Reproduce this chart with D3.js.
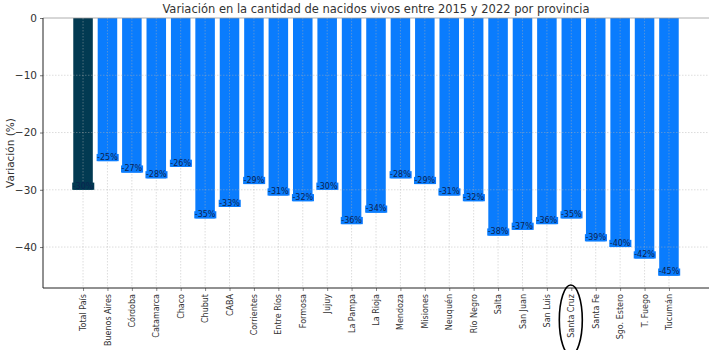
<!DOCTYPE html>
<html><head><meta charset="utf-8">
<script src="https://cdn.jsdelivr.net/npm/d3@7"></script>
<style>body{margin:0;background:#fff;} svg{display:block;font-family:"DejaVu Sans",sans-serif;}</style>
</head><body><svg id="c" width="715" height="350"></svg>
<script>
const categories = ["Total País","Buenos Aires","Córdoba","Catamarca","Chaco","Chubut","CABA","Corrientes","Entre Ríos","Formosa","Jujuy","La Pampa","La Rioja","Mendoza","Misiones","Neuquén","Río Negro","Salta","San Juan","San Luis","Santa Cruz","Santa Fe","Sgo. Estero","T. Fuego","Tucumán"];
const values = [-30,-25,-27,-28,-26,-35,-33,-29,-31,-32,-30,-36,-34,-28,-29,-31,-32,-38,-37,-36,-35,-39,-40,-42,-45];
const yTicks = [0,-10,-20,-30,-40];
const highlighted = "Santa Cruz";
const title = "Variación en la cantidad de nacidos vivos entre 2015 y 2022 por provincia";
const yLabel = "Variación (%)";

const svg = d3.select("#c");
const L = 43, R = 709, T = 18, B = 288;
const n = categories.length;
const x = d3.scaleLinear().domain([-1.64, n - 1 + 1.64]).range([L, R]);
const y = d3.scaleLinear().domain([0, -47.15]).range([T, B]);
const bw = (x(0.8) - x(0));
const blue = "#0a7cfd", dark = "#023a52";

// bars
svg.append("g").selectAll("rect").data(values).join("rect")
  .attr("x", (d,i) => x(i) - bw/2).attr("y", y(0))
  .attr("width", bw).attr("height", d => y(d) - y(0))
  .attr("fill", (d,i) => i === 0 ? dark : blue);

// grid (over bars)
const grid = svg.append("g").attr("stroke", "#b0b0b0").attr("stroke-opacity", 0.55)
  .attr("stroke-width", 0.8).attr("stroke-dasharray", "1.5,1.5");
grid.selectAll("line.v").data(categories).join("line").attr("class","v")
  .attr("x1", (d,i) => x(i)).attr("x2", (d,i) => x(i)).attr("y1", T).attr("y2", B);
grid.selectAll("line.h").data(yTicks.filter(t => t !== 0)).join("line").attr("class","h")
  .attr("x1", L).attr("x2", R).attr("y1", d => y(d)).attr("y2", d => y(d));

// value labels
const lab = svg.append("g").attr("font-size", 8).attr("text-anchor", "middle");
values.forEach((v, i) => {
  const txt = lab.append("text").attr("x", x(i)).attr("y", y(v) - 1.2)
    .attr("fill", "#0b2350").text(Math.round(v) + "%");
  const bb = txt.node().getBBox();
  lab.insert("rect", "text").attr("x", bb.x - 0.5).attr("y", bb.y + 1)
    .attr("width", bb.width + 1).attr("height", y(v) - bb.y - 1)
    .attr("fill", i === 0 ? dark : blue);
});
// bring texts on top
lab.selectAll("text").raise();

// axes
const yAxis = d3.axisLeft(y).tickValues(yTicks).tickSize(3).tickPadding(3)
  .tickFormat(d => d3.format("d")(d).replace("-", "\u2212"));
const gy = svg.append("g").attr("transform", `translate(${L},0)`).call(yAxis);
gy.select(".domain").remove();
gy.selectAll("text").attr("font-size", 10.5).attr("fill", "#333").attr("font-family", "DejaVu Sans");
gy.selectAll("line").attr("stroke", "#777");

const xAxis = d3.axisBottom(x).tickValues(d3.range(n)).tickSize(3).tickPadding(3)
  .tickFormat(i => categories[i]);
const gx = svg.append("g").attr("transform", `translate(0,${B})`).call(xAxis);
gx.select(".domain").remove();
gx.selectAll("line").attr("stroke", "#888");
gx.selectAll("text").attr("font-size", 8).attr("fill", "#333").attr("font-family", "DejaVu Sans")
  .attr("transform", "rotate(-90)").attr("text-anchor", "end")
  .attr("x", -6).attr("y", 0).attr("dy", "0.32em");

// spines
svg.append("line").attr("x1", L).attr("x2", R).attr("y1", T).attr("y2", T).attr("stroke", "#999").attr("stroke-width", 0.8);
svg.append("line").attr("x1", L).attr("x2", L).attr("y1", T).attr("y2", B).attr("stroke", "#222").attr("stroke-width", 1);
svg.append("line").attr("x1", L).attr("x2", R).attr("y1", B).attr("y2", B).attr("stroke", "#222").attr("stroke-width", 1);

// title
svg.append("text").attr("x", (L + R) / 2).attr("y", 13).attr("text-anchor", "middle")
  .attr("font-size", 11.5).attr("fill", "#333").text(title);
// y label
svg.append("text").attr("transform", `translate(14,${(T + B) / 2}) rotate(-90)`)
  .attr("text-anchor", "middle").attr("font-size", 10.5).attr("fill", "#333").text(yLabel);

// annotation ellipse around highlighted label
const hi = categories.indexOf(highlighted);
svg.append("ellipse").attr("cx", x(hi) - 0.5).attr("cy", 320).attr("rx", 11.5).attr("ry", 35)
  .attr("fill", "none").attr("stroke", "#000").attr("stroke-width", 1.6);
</script></body></html>
